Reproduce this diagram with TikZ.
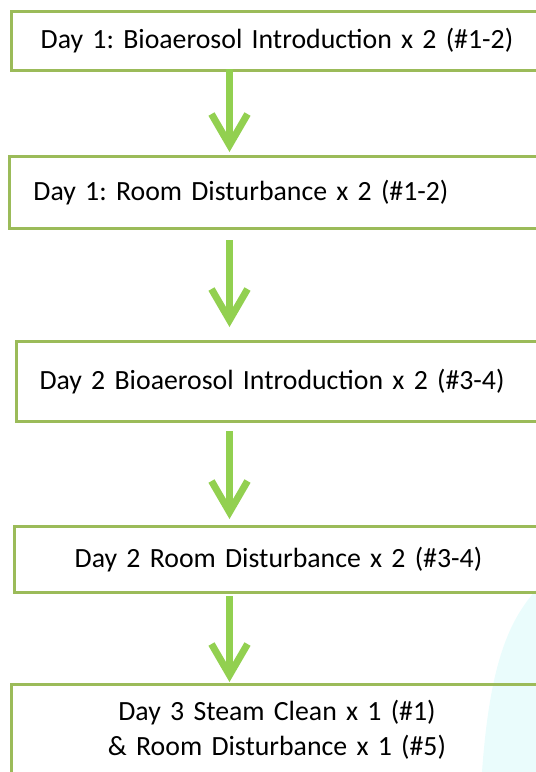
\documentclass[tikz,border=0pt]{standalone}
\usepackage{fontspec}
\setmainfont{Carlito}
\usetikzlibrary{arrows.meta}
\definecolor{boxgreen}{HTML}{9BBB59}
\definecolor{arrowgreen}{HTML}{92D050}
\definecolor{paleblue}{RGB}{234,252,252}
\frenchspacing

\begin{document}
\begin{tikzpicture}[x=1pt, y=-1pt,
	stepbox/.style={draw=boxgreen, line width=3pt, anchor=north west, inner ysep=0pt, font=\fontsize{27.8}{35}\selectfont},
	centred/.style={inner xsep=0pt, align=center},
	lefted/.style={align=left},
	flow/.style={arrowgreen, line width=7pt, -{Rectangle[length=0pt, width=0pt, line width=0pt] Straight Barb[length=31pt, width=36pt, line width=7pt, sep=-9pt]}}]
		
		% page
		\useasboundingbox (0,0) rectangle (536,772);
		\clip (0,0) rectangle (536,772);
		
		% faint background
		\fill[paleblue] (536,590) .. controls (510,620) and (490,660) .. (482,772) -- (536,772) -- cycle;
		
		% steps
		\node[stepbox, centred, text width=531pt, minimum height=59pt] (intro1) at (10,10) {Day 1: Bioaerosol Introduction x 2 (\#1-2)};
		\node[stepbox, lefted, inner xsep=24pt, text width=486pt, minimum height=72.5pt] (dist1) at (8,154.5) {Day 1: Room Disturbance x 2 (\#1-2)};
		\node[stepbox, lefted, inner xsep=23.5pt, text width=481pt, minimum height=80.5pt] (intro2) at (14.5,339.5) {Day 2 Bioaerosol Introduction x 2 (\#3-4)};
		\node[stepbox, centred, text width=528pt, minimum height=66pt] (dist2) at (13,525) {Day 2 Room Disturbance x 2 (\#3-4)};
		\node[stepbox, centred, text width=531pt, minimum height=91pt] (clean3) at (10,683) {Day 3 Steam Clean x 1 (\#1)\\ \& Room Disturbance x 1 (\#5)};
		
		% arrows
		\coordinate (spine) at (229.5,0);
		\draw[flow, shorten <=-3pt, shorten >=11.5pt] (intro1.south -| spine) -- (dist1.north -| spine);
		\draw[flow, shorten <=10pt, shorten >=21.5pt] (dist1.south -| spine) -- (intro2.north -| spine);
		\draw[flow, shorten <=8pt, shorten >=15pt] (intro2.south -| spine) -- (dist2.north -| spine);
		\draw[flow, shorten <=2pt, shorten >=10pt] (dist2.south -| spine) -- (clean3.north -| spine);
		
\end{tikzpicture}
\end{document}
